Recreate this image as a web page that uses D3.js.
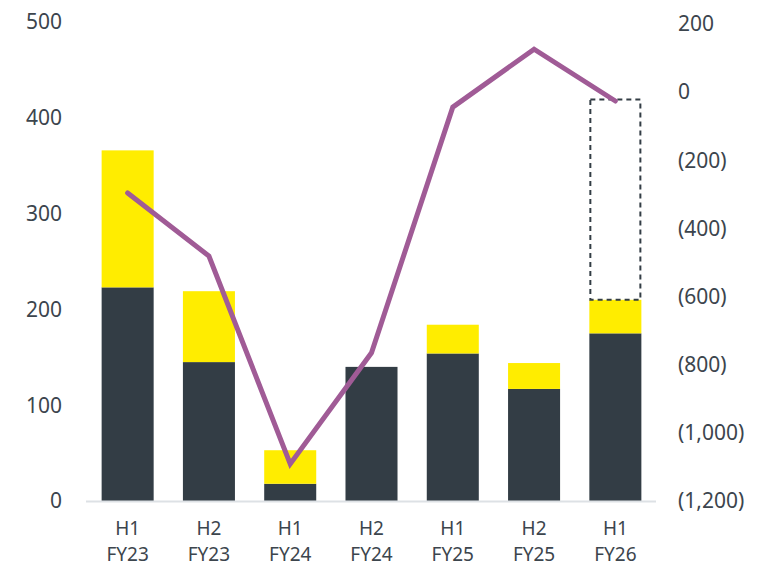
<!DOCTYPE html>
<html>
<head>
<meta charset="utf-8">
<script src="https://cdn.jsdelivr.net/npm/d3@7"></script>
<style>
  body { margin: 0; background: #fff; }
  text { font-family: "Noto Sans", "Open Sans", sans-serif; fill: #3c454d; }
</style>
</head>
<body>
<script>
// chart data
var periods = ["H1|FY23", "H2|FY23", "H1|FY24", "H2|FY24", "H1|FY25", "H2|FY25", "H1|FY26"];
var baseVals = [223, 145, 18, 140, 154, 117, 175];
var topVals = [143, 74, 35, 0, 30, 27, 35];
var lineVals = [-296, -481, -1091, -765, -44, 126, -26];
var dashedTop = 419;   // dashed outline above last bar
var leftTicks = [0, 100, 200, 300, 400, 500];
var rightTicks = [200, 0, -200, -400, -600, -800, -1000, -1200];

var width = 770, height = 570;
var plotL = 86, plotR = 656, plotT = 22, plotB = 501;

var svg = d3.select("body").append("svg")
    .attr("width", width)
    .attr("height", height);

var x = d3.scaleBand()
    .domain(periods)
    .range([plotL + 1, plotR])
    .paddingInner(0.36)
    .paddingOuter(0.18);

var yL = d3.scaleLinear().domain([0, 500]).range([plotB, plotT]);
var yR = d3.scaleLinear().domain([-1200, 200]).range([plotB, plotT + 2]);

// left axis labels
svg.selectAll(".lt")
    .data(leftTicks)
    .enter().append("text")
    .attr("x", 62)
    .attr("y", function (d) { return yL(d); })
    .attr("dy", "0.35em")
    .attr("text-anchor", "end")
    .style("font-size", "21px")
    .text(function (d) { return d; });

// right axis labels
var fmt = d3.format(",");
svg.selectAll(".rt")
    .data(rightTicks)
    .enter().append("text")
    .attr("x", 678)
    .attr("y", function (d) { return yR(d); })
    .attr("dy", "0.35em")
    .style("font-size", "21px")
    .text(function (d) { return d < 0 ? "(" + fmt(-d) + ")" : d; });

// stacked bars
svg.selectAll(".base")
    .data(periods)
    .enter().append("rect")
    .attr("x", function (d) { return x(d); })
    .attr("width", x.bandwidth())
    .attr("y", function (d, i) { return yL(baseVals[i]); })
    .attr("height", function (d, i) { return plotB - yL(baseVals[i]); })
    .attr("fill", "#333d45");

svg.selectAll(".top")
    .data(periods)
    .enter().append("rect")
    .attr("x", function (d) { return x(d); })
    .attr("width", x.bandwidth())
    .attr("y", function (d, i) { return yL(baseVals[i] + topVals[i]); })
    .attr("height", function (d, i) { return yL(baseVals[i]) - yL(baseVals[i] + topVals[i]); })
    .attr("fill", "#ffed00");

// dashed box on last bar
var last = periods[periods.length - 1];
var lastTotal = baseVals[baseVals.length - 1] + topVals[topVals.length - 1];
svg.append("rect")
    .attr("x", x(last) + 1)
    .attr("width", x.bandwidth() - 2)
    .attr("y", yL(dashedTop))
    .attr("height", yL(lastTotal) - yL(dashedTop))
    .attr("fill", "none")
    .attr("stroke", "#333d45")
    .attr("stroke-width", 2)
    .attr("stroke-dasharray", "5,4");

// baseline
svg.append("line")
    .attr("x1", plotL).attr("x2", plotR)
    .attr("y1", plotB + 0.5).attr("y2", plotB + 0.5)
    .attr("stroke", "#dde1e5")
    .attr("stroke-width", 2);

// line
var line = d3.line()
    .x(function (d, i) { return x(periods[i]) + x.bandwidth() / 2; })
    .y(function (d) { return yR(d); });

svg.append("path")
    .datum(lineVals)
    .attr("d", line)
    .attr("fill", "none")
    .attr("stroke", "#a05b96")
    .attr("stroke-width", 5)
    .attr("stroke-linecap", "round")
    .attr("stroke-linejoin", "miter");

// x labels
var xl = svg.selectAll(".xl")
    .data(periods)
    .enter().append("text")
    .attr("text-anchor", "middle")
    .style("font-size", "19px");
xl.append("tspan")
    .attr("x", function (d) { return x(d) + x.bandwidth() / 2; })
    .attr("y", 535)
    .text(function (d) { return d.split("|")[0]; });
xl.append("tspan")
    .attr("x", function (d) { return x(d) + x.bandwidth() / 2; })
    .attr("y", 561)
    .text(function (d) { return d.split("|")[1]; });
</script>
</body>
</html>
